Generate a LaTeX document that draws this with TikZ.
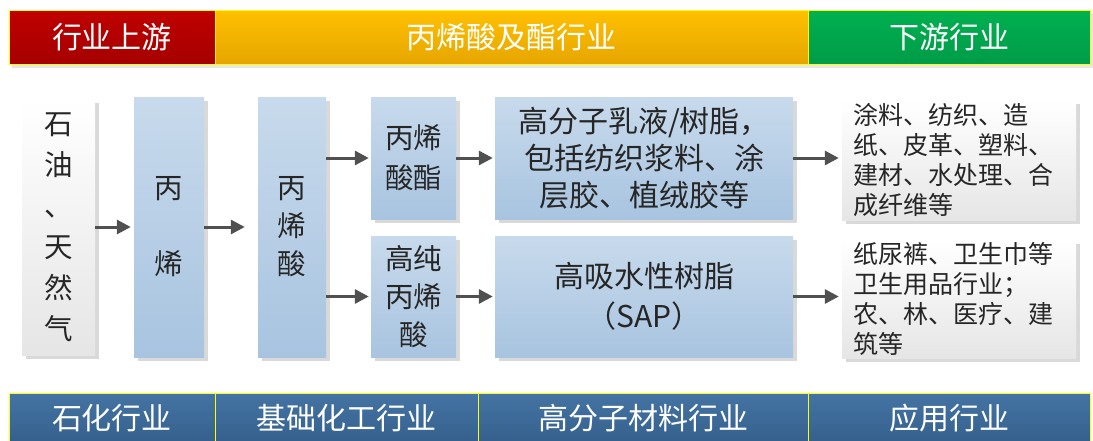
\documentclass[tikz,border=0pt]{standalone}
\usepackage{fontspec}
\setmainfont{Noto Sans CJK SC}
\usetikzlibrary{shadows}
\usetikzlibrary{arrows.meta}
\usetikzlibrary{positioning}
\definecolor{upred}{RGB}{192, 0, 0}
\definecolor{upreddark}{RGB}{165, 0, 0}
\definecolor{midgold}{RGB}{255, 192, 0}
\definecolor{midgolddark}{RGB}{230, 166, 0}
\definecolor{downgreen}{RGB}{0, 176, 80}
\definecolor{downgreendark}{RGB}{0, 156, 72}
\definecolor{footblue}{RGB}{68, 116, 164}
\definecolor{footbluedark}{RGB}{52, 94, 138}
\definecolor{bandline}{RGB}{255, 255, 0}
\definecolor{boxtop}{RGB}{200, 218, 236}
\definecolor{boxbot}{RGB}{168, 196, 224}
\definecolor{arrowgray}{RGB}{80, 80, 80}
\newcommand{\lift}[1]{\raisebox{7pt}{#1}}

\tikzset{
  band/.style={draw=bandline, line width=1pt, text=white, inner sep=0pt,
               minimum height=54pt, font=\fontsize{30}{32}\selectfont},
  bluebox/.style={top color=boxtop, bottom color=boxbot, text=black!85, inner sep=0pt,
                  align=center, font=\fontsize{28.5}{38}\selectfont,
                  drop shadow={shadow xshift=4pt, shadow yshift=-4pt, opacity=.3}},
  graybox/.style={top color=white, bottom color=black!10, text=black!85, inner sep=0pt,
                  drop shadow={shadow xshift=4pt, shadow yshift=-4pt, opacity=.3}},
  flow/.style={draw=arrowgray, line width=3pt, -{Triangle[length=14pt,width=14pt]}}
}

\begin{document}
\begin{tikzpicture}[x=1pt, y=-1pt]
  \useasboundingbox (0,0) rectangle (1093,440);
  % header band
  \node[band, top color=upred, bottom color=upreddark, minimum width=206pt,
        drop shadow={shadow yshift=-4pt, opacity=.2}] (hup)   at (112,37)   {行业上游};
  \node[band, top color=midgold, bottom color=midgolddark, minimum width=593pt,
        drop shadow={shadow yshift=-4pt, opacity=.2}] (hmid)  at (511.5,37) {丙烯酸及酯行业};
  \node[band, top color=downgreen, bottom color=downgreendark, minimum width=282pt,
        drop shadow={shadow yshift=-4pt, opacity=.2}] (hdown) at (949,37)   {下游行业};
  % footer band
  \node[band, top color=footblue, bottom color=footbluedark, minimum width=206pt] (fpetro) at (112,420)   {\lift{石化行业}};
  \node[band, top color=footblue, bottom color=footbluedark, minimum width=263pt] (fbasic) at (346.5,420) {\lift{基础化工行业}};
  \node[band, top color=footblue, bottom color=footbluedark, minimum width=330pt] (fpoly)  at (643,420)   {\lift{高分子材料行业}};
  \node[band, top color=footblue, bottom color=footbluedark, minimum width=282pt] (fuse)   at (949,420)   {\lift{应用行业}};
  % chain
  \node[graybox, align=center, font=\fontsize{28.5}{41}\selectfont,
        minimum width=73pt, minimum height=256pt] (oil) at (58.5,227) {石\\油\\、\\天\\然\\气};
  \node[bluebox, minimum width=70pt, minimum height=260pt] (propene) at (169,227) {丙\\[38pt]烯};
  \node[bluebox, minimum width=68pt, minimum height=260pt] (acid)    at (292,227) {丙\\烯\\酸};
  \node[bluebox, font=\fontsize{28.5}{40}\selectfont,
        minimum width=85pt, minimum height=122pt] (ester) at (413.5,158) {丙烯\\酸酯};
  \node[bluebox, minimum width=85pt, minimum height=121pt] (pure)  at (413.5,296.5) {高纯\\丙烯\\酸};
  \node[bluebox, font=\fontsize{30}{37}\selectfont,
        minimum width=298pt, minimum height=122pt] (latex) at (644,158) {高分子乳液/树脂，\\包括纺织浆料、涂\\层胶、植绒胶等};
  \node[bluebox, font=\fontsize{30}{40}\selectfont,
        minimum width=298pt, minimum height=121pt] (sap)   at (644,296.5) {高吸水性树脂\\（SAP）};
  \node[graybox, align=left, font=\fontsize{25}{30}\selectfont, text width=212pt, inner xsep=11pt,
        minimum height=120pt] (coat) at (959,160) {涂料、纺织、造\\纸、皮革、塑料、\\建材、水处理、合\\成纤维等};
  \node[graybox, align=left, font=\fontsize{25}{30}\selectfont, text width=212pt, inner xsep=11pt,
        minimum height=118pt] (hygiene) at (959,299) {纸尿裤、卫生巾等\\卫生用品行业；\\农、林、医疗、建\\筑等};
  % arrows
  \draw[flow, shorten >=3pt]  (oil) -- (propene);
  \draw[flow, shorten >=13pt] (propene) -- (acid);
  \draw[flow, shorten >=2pt]  (acid.east |- ester.west) -- (ester.west);
  \draw[flow, shorten >=2pt]  (acid.east |- pure.west) -- (pure.west);
  \draw[flow, shorten >=2pt]  (ester) -- (latex);
  \draw[flow, shorten >=2pt]  (pure) -- (sap);
  \draw[flow, shorten >=3pt]  (latex.east) -- (latex.east -| coat.west);
  \draw[flow, shorten >=3pt]  (sap.east) -- (sap.east -| hygiene.west);
\end{tikzpicture}
\end{document}
